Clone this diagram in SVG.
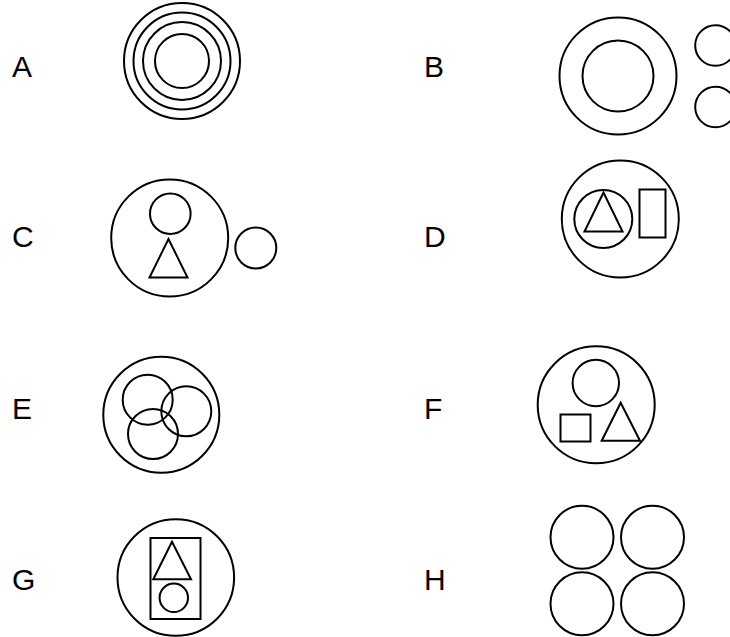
<svg xmlns="http://www.w3.org/2000/svg" width="730" height="637" viewBox="0 0 730 637">
<style>
.s{fill:none;stroke:#000;stroke-width:2}
.l{font-family:"Liberation Sans",Arial,sans-serif;font-size:30px;fill:#000}
</style>
<rect width="730" height="637" fill="#fff"/>
<g id="A">
<text class="l" x="12" y="77">A</text>
<circle class="s" cx="182" cy="61" r="58"/>
<circle class="s" cx="182" cy="61" r="48.5"/>
<circle class="s" cx="182" cy="61" r="39"/>
<circle class="s" cx="182" cy="61" r="27"/>
</g>
<g id="B">
<text class="l" x="424" y="77">B</text>
<circle class="s" cx="618" cy="76" r="58.5"/>
<circle class="s" cx="618" cy="76" r="35.5"/>
<circle class="s" cx="715.5" cy="45.5" r="20.3"/>
<circle class="s" cx="715.5" cy="107" r="20.3"/>
</g>
<g id="C">
<text class="l" x="12" y="247">C</text>
<circle class="s" cx="169.7" cy="238" r="58.5"/>
<circle class="s" cx="170.3" cy="213.7" r="20.3"/>
<polygon class="s" points="168.5,239 149.5,277.5 187.5,277.5"/>
<circle class="s" cx="255.8" cy="248" r="20.5"/>
</g>
<g id="D">
<text class="l" x="424" y="247">D</text>
<circle class="s" cx="620.3" cy="219" r="58.5"/>
<circle class="s" cx="603.3" cy="219" r="29"/>
<polygon class="s" points="603.5,192.5 584.5,231.5 622.5,231.5"/>
<rect class="s" x="639.5" y="189.5" width="26" height="48"/>
</g>
<g id="E">
<text class="l" x="12" y="419">E</text>
<circle class="s" cx="161.3" cy="414.7" r="58"/>
<circle class="s" cx="147.7" cy="399.7" r="25"/>
<circle class="s" cx="186.3" cy="411.3" r="25"/>
<circle class="s" cx="153" cy="434" r="25"/>
</g>
<g id="F">
<text class="l" x="424" y="419">F</text>
<circle class="s" cx="596.2" cy="404.8" r="58.5"/>
<circle class="s" cx="595.8" cy="383" r="23.2"/>
<rect class="s" x="560.5" y="414.5" width="30" height="27"/>
<polygon class="s" points="620.7,402.8 601.7,440.8 640,440.8"/>
</g>
<g id="G">
<text class="l" x="12" y="590">G</text>
<circle class="s" cx="175.8" cy="577.5" r="58.3"/>
<rect class="s" x="150.5" y="538" width="50" height="81"/>
<polygon class="s" points="172,541.7 153.3,579.3 191,579.3"/>
<circle class="s" cx="173.8" cy="597.8" r="14.2"/>
</g>
<g id="H">
<text class="l" x="424" y="590">H</text>
<circle class="s" cx="582" cy="537.3" r="31.5"/>
<circle class="s" cx="652.5" cy="537.3" r="31.5"/>
<circle class="s" cx="582" cy="603.7" r="31.5"/>
<circle class="s" cx="652.5" cy="603.7" r="31.5"/>
</g>
<g id="connectors"/>
</svg>
